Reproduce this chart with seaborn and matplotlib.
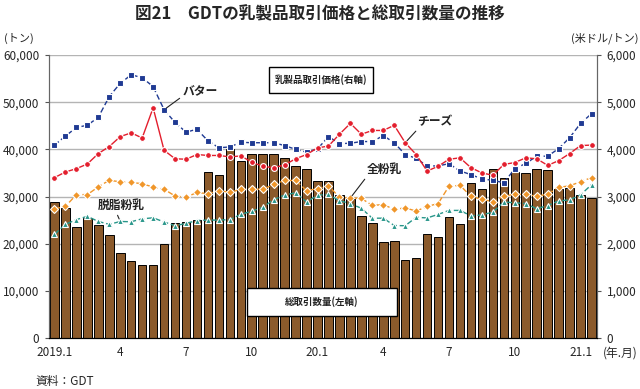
import numpy as np
import pandas as pd
import matplotlib
matplotlib.use("Agg")
import matplotlib.pyplot as plt
import seaborn as sns
from matplotlib.patches import Rectangle
from matplotlib.ticker import FuncFormatter

# GDT auctions, 2 per month, 2019.1 - 2021.1
volume = [28870, 27600, 23500, 25480, 24050, 21930, 18050, 16410, 15530, 15530,
          20020, 24300, 24630, 24950, 35240, 34600, 40050, 37500, 38920, 38920,
          38920, 38150, 36500, 35880, 33200, 33300, 30400, 29500, 25800, 24400,
          20400, 20600, 16560, 16900, 22080, 21500, 25750, 24100, 32900, 31550,
          35900, 33970, 35160, 34880, 35730, 35520, 31630, 31850, 30420, 29720]
butter = [4090, 4280, 4465, 4510, 4680, 5120, 5400, 5580, 5520, 5330,
          4840, 4570, 4365, 4425, 4180, 4035, 4050, 4150, 4140, 4140,
          4140, 4080, 4000, 3940, 4010, 4270, 4120, 4130, 4165, 4165,
          4290, 4140, 3890, 3810, 3645, 3650, 3695, 3540, 3465, 3370,
          3345, 3290, 3590, 3700, 3855, 3855, 4015, 4245, 4550, 4755]
cheese = [3400, 3520, 3590, 3690, 3910, 4060, 4270, 4350, 4240, 4880,
          3980, 3800, 3790, 3890, 3870, 3870, 3840, 3860, 3730, 3640,
          3610, 3670, 3800, 3890, 4030, 4070, 4320, 4550, 4320, 4400,
          4400, 4510, 4140, 3890, 3540, 3640, 3790, 3820, 3610, 3500,
          3450, 3680, 3720, 3820, 3800, 3660, 3760, 3910, 4080, 4090]
wmp = [2740, 2790, 3040, 3040, 3205, 3345, 3310, 3300, 3270, 3200,
       3155, 3010, 2985, 3085, 3060, 3125, 3090, 3150, 3165, 3150,
       3255, 3340, 3340, 3125, 3165, 3230, 2980, 2970, 2960, 2810,
       2830, 2725, 2760, 2690, 2790, 2850, 3220, 3235, 3005, 2940,
       2890, 3005, 3050, 3045, 3005, 3050, 3195, 3225, 3315, 3400]
smp = [2200, 2410, 2510, 2580, 2470, 2410, 2470, 2465, 2527, 2548,
       2460, 2380, 2430, 2490, 2500, 2500, 2510, 2620, 2690, 2770,
       2935, 3030, 3080, 2885, 3025, 3045, 2910, 2850, 2750, 2540,
       2540, 2385, 2380, 2560, 2545, 2620, 2705, 2705, 2590, 2610,
       2670, 2885, 2866, 2851, 2740, 2809, 2905, 2930, 3035, 3250]

tick_pos = [0, 6, 12, 18, 24, 30, 36, 42, 48]
tick_labels = ["2019.1", "4", "7", "10", "20.1", "4", "7", "10", "21.1"]

n = len(volume)
idx = np.arange(n)

sns.set_style("white")
plt.rcParams['font.family'] = ['Noto Sans CJK JP', 'DejaVu Sans']

W, H = 640, 389
def fx(px):
    return px / W
def fy(py):
    return 1 - py / H

fig, ax = plt.subplots(figsize=(6.4, 3.89), dpi=100)
plt.subplots_adjust(left=fx(49), right=fx(597), top=fy(55), bottom=fy(338))

sns.barplot(x=idx, y=volume, color="#8B5A2B", saturation=1, edgecolor="black",
            linewidth=0.7, width=0.78, ax=ax)
ax.set_xlim(-0.41, n - 0.61)
ax.set_ylim(0, 60000)
ax.set_yticks(np.arange(0, 60001, 10000))
ax.yaxis.set_major_formatter(FuncFormatter(lambda v, p: f"{int(v):,}"))
ax.yaxis.grid(True, color="#b4b4b4", lw=1)
ax.set_axisbelow(True)
ax.set_xticks(tick_pos, tick_labels)
ax.set_xticks(np.arange(-0.5, n, 1), minor=True)
ax.tick_params(axis='x', which='major', length=0, pad=6, labelsize=8.5)
ax.tick_params(axis='x', which='minor', length=3, color="#555555", direction='out')
ax.tick_params(axis='y', length=3, color="#555555", direction='out', labelsize=8.5, pad=4)
ax.set_xlabel('')
ax.set_ylabel('')

ax2 = ax.twinx()
series = [
    (butter, "#1f3a93", "s", (0, (4, 2)), 3.7),
    (cheese, "#e31e2d", "o", "-", 4.2),
    (wmp, "#f0962a", "D", (0, (4, 2)), 3.8),
    (smp, "#28968a", "^", (0, (4, 2)), 4.2),
]
for vals, col, mk, ls, ms in series:
    sns.lineplot(x=idx, y=vals, ax=ax2, color=col, linestyle=ls, lw=1.0,
                 marker=mk, markersize=ms, markerfacecolor=col,
                 markeredgecolor="white", markeredgewidth=0.8)
ax2.set_ylim(0, 6000)
ax2.set_yticks(np.arange(0, 6001, 1000))
ax2.yaxis.set_major_formatter(FuncFormatter(lambda v, p: f"{int(v):,}"))
ax2.tick_params(axis='y', length=3, color="#555555", direction='out', labelsize=8.5, pad=4)
ax2.set_xlabel('')
ax2.set_ylabel('')

for a in (ax, ax2):
    a.spines['top'].set_visible(False)
    a.spines['left'].set_color("#666666")
    a.spines['right'].set_color("#666666")
    a.spines['bottom'].set_color("black")

# series labels with leader lines
def px2x(px):
    return (px - 53.4) / 11.0
def py2y(py):
    return (338.3 - py) / 47.1 * 1000

labels = [
    ("バター", 10, butter[10], 200, 92, (0.0, 0.15)),
    ("チーズ", 32, cheese[32], 435, 122, (0.05, 0.0)),
    ("全粉乳", 27, wmp[27], 385, 170, (0.0, 0.0)),
    ("脱脂粉乳", 6, smp[6], 120, 206, (0.4, 0.0)),
]
for txt, i, v, tx, ty, rp in labels:
    ax2.annotate(txt, xy=(i, v), xytext=(px2x(tx), py2y(ty)), ha='center', va='center',
                 fontsize=8.5, fontweight='bold', color="#222222", annotation_clip=False,
                 arrowprops=dict(arrowstyle='-', lw=0.8, color="#222222",
                                 relpos=rp, shrinkA=0, shrinkB=2))

# boxes
for (x0, y0, x1, y1), txt in [((269, 67, 373, 93), "乳製品取引価格(右軸)"),
                              ((247, 288, 397, 316), "総取引数量(左軸)")]:
    fig.add_artist(Rectangle((fx(x0), fy(y1)), fx(x1) - fx(x0), fy(y0) - fy(y1),
                             transform=fig.transFigure, facecolor="white",
                             edgecolor="black", lw=1.0, zorder=5))
    fig.text(fx((x0 + x1) / 2), fy((y0 + y1) / 2), txt, ha='center', va='center',
             fontsize=6.8, fontweight='bold', color="#222222", zorder=6)

fig.text(0.5, fy(14), "図21　GDTの乳製品取引価格と総取引数量の推移", ha='center',
         va='center', fontsize=12, fontweight='bold')
fig.text(fx(4), fy(38), "(トン)", ha='left', va='center', fontsize=8)
fig.text(fx(638), fy(38), "(米ドル/トン)", ha='right', va='center', fontsize=8)
fig.text(fx(638), fy(353), "(年.月)", ha='right', va='center', fontsize=8.5)
fig.text(fx(35), fy(382), "資料：GDT", ha='left', va='center', fontsize=8.5)

plt.savefig("out.png", dpi=100)
